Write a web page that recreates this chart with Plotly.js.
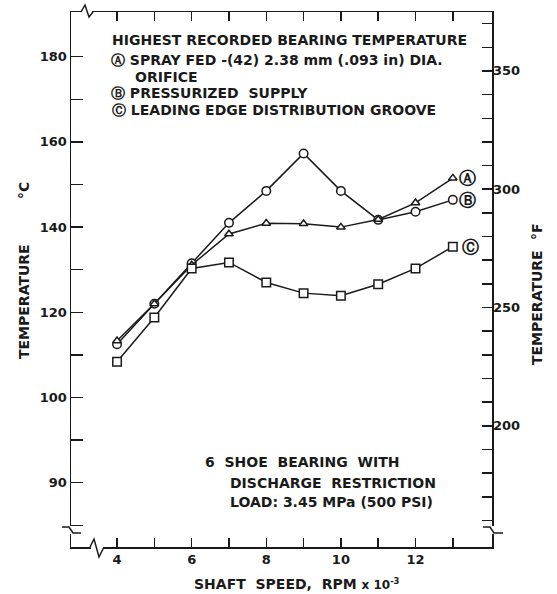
<!DOCTYPE html>
<html>
<head>
<meta charset="utf-8">
<script src="https://cdn.plot.ly/plotly-3.0.1.min.js"></script>
<style>html,body{margin:0;padding:0;background:#fff;}#chart{width:557px;height:594px;}</style>
</head>
<body>
<div id="chart"></div>
<script>
// ---- data ----
const speed = [4, 5, 6, 7, 8, 9, 10, 11, 12, 13];           // RPM x 10^-3
const seriesA = [113.3, 122.0, 131.1, 138.4, 140.9, 140.8, 140.0, 141.8, 145.7, 151.5]; // spray fed (triangles)
const seriesB = [112.5, 122.0, 131.5, 141.0, 148.5, 157.3, 148.5, 141.7, 143.6, 146.4]; // pressurized supply (circles)
const seriesC = [108.4, 118.8, 130.3, 131.7, 127.0, 124.5, 123.9, 126.6, 130.3, 135.4]; // leading edge groove (squares)

const xTickVals = [4, 5, 6, 7, 8, 9, 10, 11, 12, 13];
const xTickText = ['4', ' ', '6', ' ', '8', ' ', '10', ' ', '12', ' '];
const cTickVals = [70, 80, 90, 100, 110, 120, 130, 140, 150, 160, 170, 180];
const cTickText = [' ', '90', ' ', '100', ' ', '120', ' ', '140', ' ', '160', ' ', '180'];
const fTickVals = [160, 170, 180, 190, 200, 210, 220, 230, 240, 250, 260, 270, 280, 290, 300, 310, 320, 330, 340, 350, 360, 370];
const fTickText = [' ', ' ', ' ', ' ', '200', ' ', ' ', ' ', ' ', '250', ' ', ' ', ' ', ' ', '300', ' ', ' ', ' ', ' ', '350', ' ', ' '];

const legendLines = [
  'HIGHEST RECORDED BEARING TEMPERATURE',
  '\u24B6 SPRAY FED -(42) 2.38 mm (.093 in) DIA.',
  'ORIFICE',
  '\u24B7 PRESSURIZED  SUPPLY',
  '\u24B8 LEADING EDGE DISTRIBUTION GROOVE'
];
const noteLines = ['6  SHOE  BEARING  WITH', 'DISCHARGE  RESTRICTION', 'LOAD: 3.45 MPa (500 PSI)'];
const seriesLabels = ['\u24B6', '\u24B7', '\u24B8'];

// ---- geometry (plot area in px) ----
const W = 557, H = 594, L = 71, R = 492, T = 12, B = 547;
const px = v => (v - L) / (R - L);
const py = v => (B - v) / (B - T);
const cRange = [64.9, 190.5];
const toF = c => c * 1.8 + 32;
const fRange = cRange.map(toF);

const FONT = {family: 'DejaVu Sans, sans-serif', size: 14, color: '#1a1a1a', weight: 'bold'};
const TICKFONT = {family: 'DejaVu Sans, sans-serif', size: 13, color: '#1a1a1a', weight: 'bold'};
const lineStyle = {color: '#1a1a1a', width: 1.5};
const mk = sym => ({symbol: sym, size: sym === 'triangle-up' ? 7.5 : 8.5, color: '#fff', line: {color: '#1a1a1a', width: 1.5}});

const traces = [
  {x: speed, y: seriesB, mode: 'lines+markers', line: lineStyle, marker: mk('circle'), showlegend: false},
  {x: speed, y: seriesA, mode: 'lines+markers', line: lineStyle, marker: mk('triangle-up'), showlegend: false},
  {x: speed, y: seriesC, mode: 'lines+markers', line: lineStyle, marker: mk('square'), showlegend: false},
  // same series in °F on the right-hand axis (drawn invisibly so that axis is built)
  {x: speed, y: seriesA.map(toF), yaxis: 'y2', mode: 'markers', marker: {opacity: 0}, hoverinfo: 'skip', showlegend: false}
];

const ann = [];
const legX = [110, 109, 133, 109, 110];
const legY = [40, 60, 77, 93, 110];
legendLines.forEach((t, i) => ann.push({xref: 'paper', yref: 'paper', x: px(legX[i]), y: py(legY[i]), xanchor: 'left', yanchor: 'middle', text: t, showarrow: false, font: FONT}));
const noteX = [203, 228, 228];
const noteY = [462, 483, 502];
noteLines.forEach((t, i) => ann.push({xref: 'paper', yref: 'paper', x: px(noteX[i]), y: py(noteY[i]), xanchor: 'left', yanchor: 'middle', text: t, showarrow: false, font: FONT}));
const lastIdx = speed.length - 1;
[seriesA, seriesB, seriesC].forEach((s, i) => ann.push({xref: 'x', yref: 'y', x: speed[lastIdx], y: s[lastIdx], xshift: i === 2 ? 18 : 15, xanchor: 'center', yanchor: 'middle', text: seriesLabels[i], showarrow: false, font: {family: 'DejaVu Sans, sans-serif', size: 17, color: '#1a1a1a'}}));
// axis titles
ann.push({xref: 'paper', yref: 'paper', x: px(14), y: py(302), textangle: -90, text: 'TEMPERATURE', showarrow: false, font: FONT});
ann.push({xref: 'paper', yref: 'paper', x: px(14), y: py(191), textangle: -90, text: '°C', showarrow: false, font: FONT});
ann.push({xref: 'paper', yref: 'paper', x: px(547), y: py(308), textangle: -90, text: 'TEMPERATURE', showarrow: false, font: FONT});
ann.push({xref: 'paper', yref: 'paper', x: px(547), y: py(232), textangle: -90, text: '°F', showarrow: false, font: FONT});
ann.push({xref: 'paper', yref: 'paper', x: px(297), y: py(584), yanchor: 'middle', text: 'SHAFT  SPEED,  RPM <span style="font-size:12px">x 10<sup>-3</sup></span>', showarrow: false, font: FONT});

const pathOf = pts => 'M ' + pts.map(p => px(p[0]) + ',' + py(p[1])).join(' L ');
const mask = (a, b) => ({type: 'path', xref: 'paper', yref: 'paper', path: pathOf([a, b]), line: {color: '#fff', width: 4}, layer: 'above'});
const zig = pts => ({type: 'path', xref: 'paper', yref: 'paper', path: pathOf(pts), line: {color: '#1a1a1a', width: 1.5}, layer: 'above'});
const shapes = [
  mask([82, 12], [92, 12]), zig([[81, 12], [85, 5], [89, 17], [93, 12]]),
  mask([91, 547], [104, 547]), zig([[90, 547], [94, 539], [99, 557], [104, 547]]),
  mask([71, 526], [71, 534]), zig([[62, 527], [69, 527], [73, 533], [81, 533]]),
  mask([492, 526], [492, 534]), zig([[483, 527], [490, 527], [494, 533], [503, 533]])
];

const layout = {
  width: W, height: H,
  margin: {l: L, r: W - R, t: T, b: H - B, pad: 0},
  paper_bgcolor: '#fff', plot_bgcolor: '#fff',
  showlegend: false,
  font: FONT,
  xaxis: {range: [2.766, 14.05], tickvals: xTickVals, ticktext: xTickText, ticks: 'inside', ticklen: 9, tickwidth: 1.5, tickcolor: '#1a1a1a',
          showline: true, linewidth: 1.5, linecolor: '#1a1a1a', mirror: 'ticks', showgrid: false, zeroline: false, tickfont: TICKFONT, fixedrange: true},
  yaxis: {range: cRange, tickvals: cTickVals, ticktext: cTickText, ticks: 'inside', ticklen: 12, tickwidth: 1.5, tickcolor: '#1a1a1a',
          showline: true, linewidth: 1.5, linecolor: '#1a1a1a', mirror: true, showgrid: false, zeroline: false, tickfont: TICKFONT, fixedrange: true},
  yaxis2: {range: fRange, overlaying: 'y', side: 'right', tickvals: fTickVals, ticktext: fTickText, ticks: 'inside', ticklen: 10, tickwidth: 1.5, tickcolor: '#1a1a1a',
           showline: false, showgrid: false, zeroline: false, tickfont: TICKFONT, fixedrange: true},
  annotations: ann,
  shapes: shapes
};

Plotly.newPlot('chart', traces, layout, {displayModeBar: false, staticPlot: true});
</script>
</body>
</html>
